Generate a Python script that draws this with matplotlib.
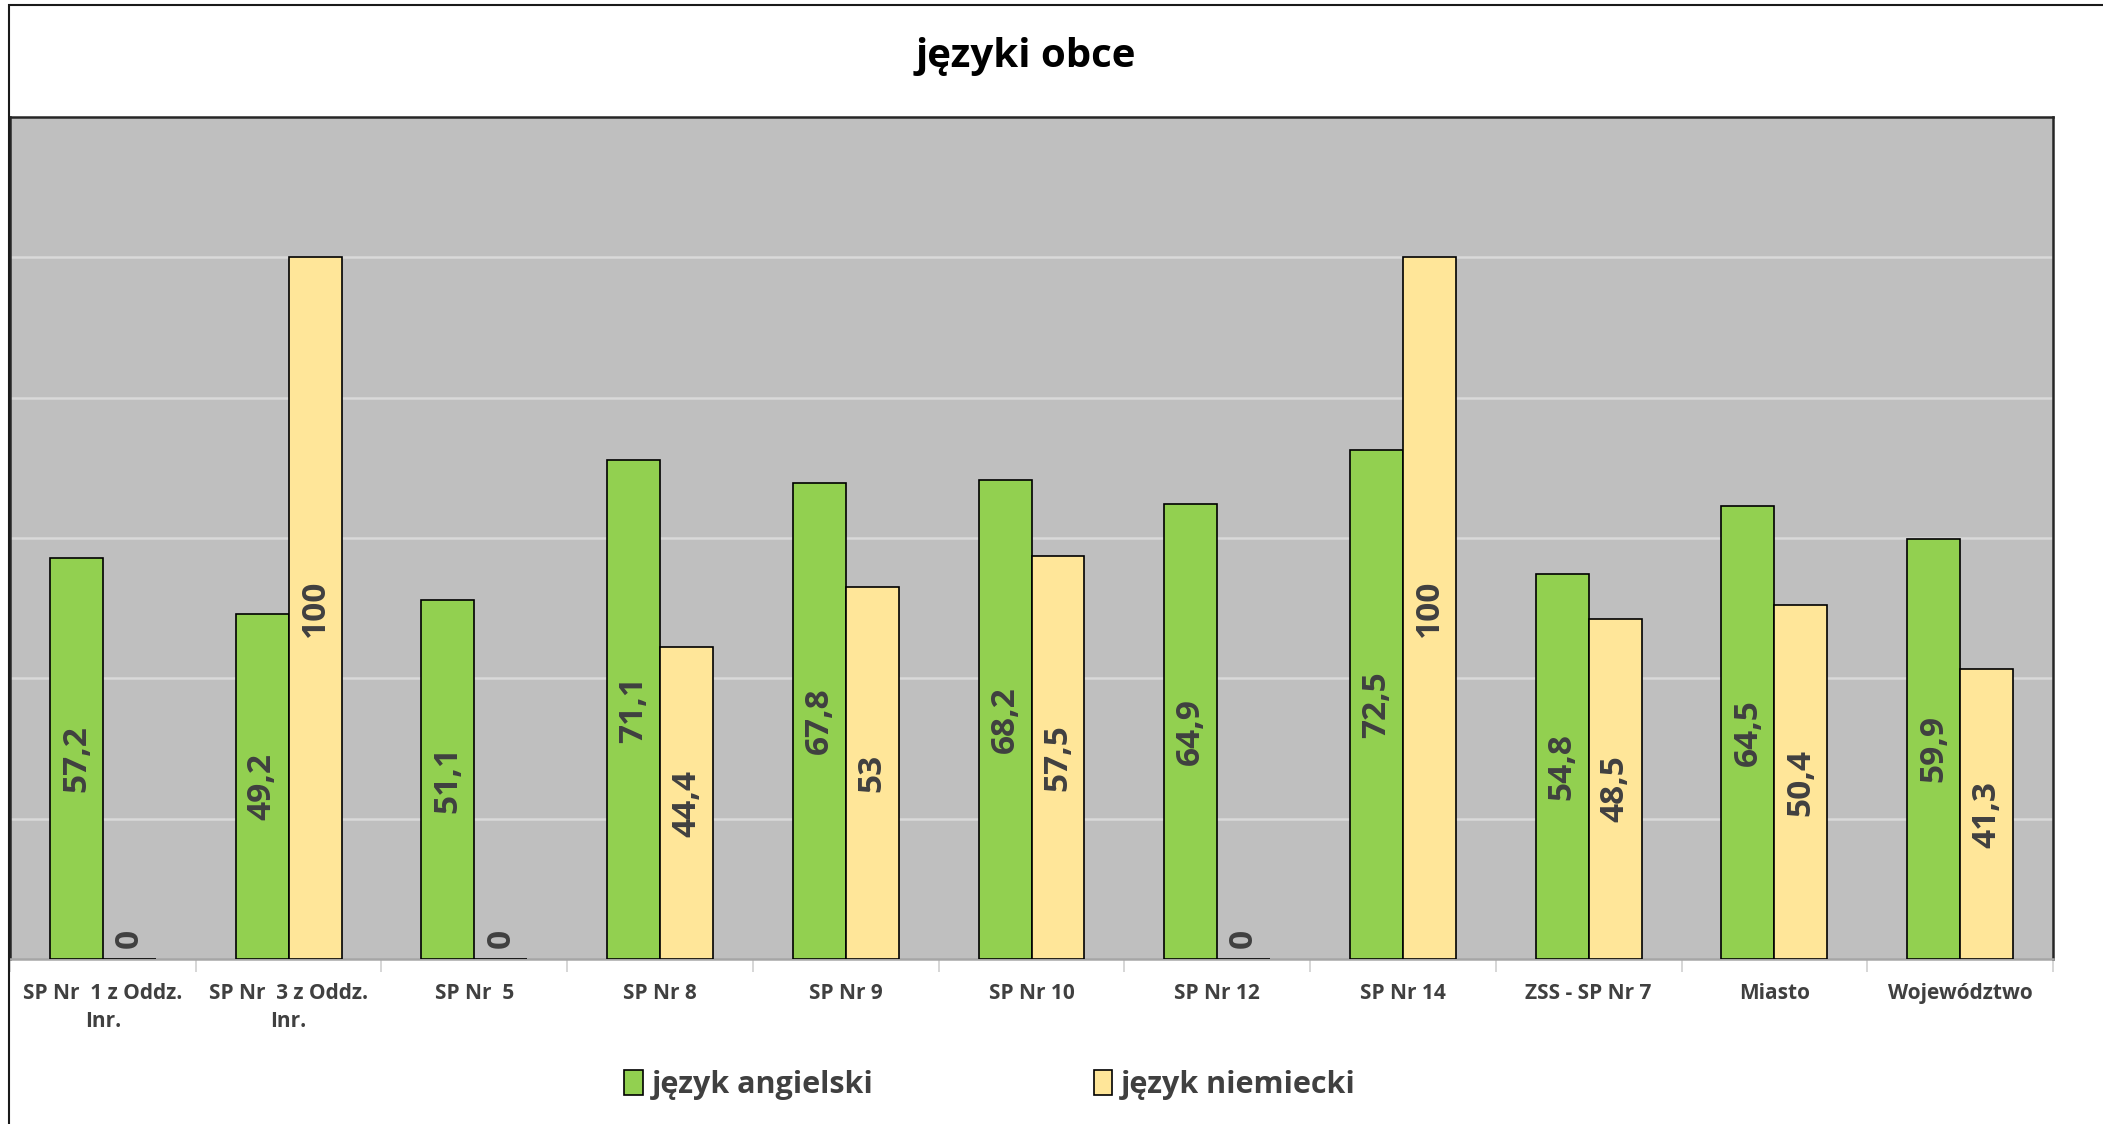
import numpy as np
import matplotlib.pyplot as plt
from matplotlib.patches import Rectangle

# data
categories = ["SP Nr  1 z Oddz.\nInr.", "SP Nr  3 z Oddz.\nInr.", "SP Nr  5", "SP Nr 8",
              "SP Nr 9", "SP Nr 10", "SP Nr 12", "SP Nr 14", "ZSS - SP Nr 7",
              "Miasto", "Województwo"]
angielski = [57.2, 49.2, 51.1, 71.1, 67.8, 68.2, 64.9, 72.5, 54.8, 64.5, 59.9]
niemiecki = [0, 100, 0, 44.4, 53, 57.5, 0, 100, 48.5, 50.4, 41.3]
series_names = ["język angielski", "język niemiecki"]

GREEN = "#92D050"
YELLOW = "#FFE699"
LABEL_COL = "#404040"

plt.rcParams['font.family'] = ['Open Sans', 'DejaVu Sans']

fig = plt.figure(figsize=(21.03, 11.24), dpi=100)
ax = fig.add_axes([10 / 2103, 1 - 959 / 1124, 2043 / 2103, 842 / 1124])

# outer chart frame (right and bottom edges fall outside the picture)
fig.patches.append(Rectangle((9 / 2103, -0.1), 1.2, 1 - 5 / 1124 + 0.1,
                             transform=fig.transFigure, fill=False,
                             edgecolor="#1a1a1a", linewidth=1.5, zorder=0))

x = np.arange(len(categories))
w = 0.285
b1 = ax.bar(x - w / 2, angielski, w, color=GREEN, edgecolor="black", linewidth=1.2,
            label=series_names[0], zorder=3)
b2 = ax.bar(x + w / 2, niemiecki, w, color=YELLOW, edgecolor="black", linewidth=1.2,
            label=series_names[1], zorder=3)

for bars, vals in ((b1, angielski), (b2, niemiecki)):
    for bar, v in zip(bars, vals):
        txt = f"{v:g}".replace(".", ",")
        cx = bar.get_x() + bar.get_width() / 2
        if v == 0:
            ax.text(cx, 1.6, txt, rotation=90, ha="center", va="bottom",
                    fontsize=24, fontweight="bold", color=LABEL_COL, zorder=4)
        else:
            ax.text(cx, v / 2, txt, rotation=90, ha="center", va="center",
                    fontsize=24, fontweight="bold", color=LABEL_COL, zorder=4)

ax.set_facecolor("#BFBFBF")
ax.set_xlim(-0.5, len(categories) - 0.5)
ax.set_ylim(0, 120)
ax.set_yticks([20, 40, 60, 80, 100])
ax.yaxis.grid(True, color="#D9D9D9", linewidth=1.8, zorder=0)
ax.set_axisbelow(True)
ax.tick_params(axis="y", length=0, labelleft=False)

ax.set_xticks(x)
ax.set_xticklabels(categories, fontsize=15, fontweight="bold", color="#404040",
                   linespacing=1.45)
ax.tick_params(axis="x", length=0, pad=17)
# category boundary ticks
ax.set_xticks(np.arange(len(categories) + 1) - 0.5, minor=True)
ax.tick_params(axis="x", which="minor", length=9, color="#D0D0D0", width=1.2)

for s in ("top", "left", "right"):
    ax.spines[s].set_color("#262626")
    ax.spines[s].set_linewidth(1.8)
ax.spines["bottom"].set_color("#A6A6A6")
ax.spines["bottom"].set_linewidth(1.8)

fig.text(1026 / 2103, 1 - 56 / 1124, "języki obce", ha="center", va="center",
         fontsize=29, fontweight="bold", color="black")

fig.legend(handles=[b1, b2], loc="center", bbox_to_anchor=(990 / 2103, 1 - 1085 / 1124),
           ncol=2, frameon=False, handlelength=0.6, handleheight=0.85,
           handletextpad=0.3, columnspacing=7.2,
           prop={"weight": "bold", "size": 22})
for t in fig.legends[0].get_texts():
    t.set_color(LABEL_COL)

fig.savefig("out.png", dpi=100)
